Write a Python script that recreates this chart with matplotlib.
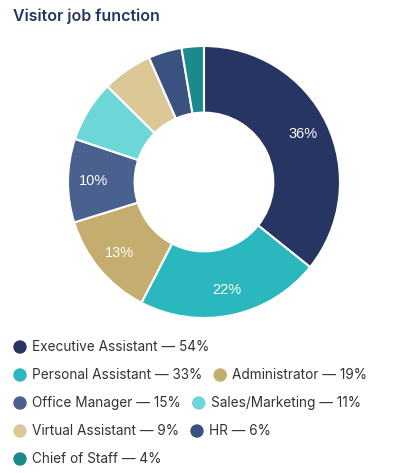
import matplotlib.pyplot as plt
import matplotlib as mpl

mpl.rcParams['font.family'] = ['Inter', 'DejaVu Sans']

labels = ['Executive Assistant', 'Personal Assistant', 'Administrator', 'Office Manager',
          'Sales/Marketing', 'Virtual Assistant', 'HR', 'Chief of Staff']
values = [54, 33, 19, 15, 11, 9, 6, 4]
colors = ['#263562', '#2ab7bd', '#c5ad70', '#4a6190', '#6dd6d8', '#dcc897', '#3a5280', '#1b8a8c']
# legend rows as they wrap in the reference
rows = [[0], [1, 2], [3, 4], [5, 6], [7]]

W, H = 417, 473
fig = plt.figure(figsize=(W / 100, H / 100), dpi=100)

fig.text(13 / W, 1 - 16 / H, 'Visitor job function', fontsize=11.5, fontweight='semibold',
         color='#263562', va='center', ha='left')

cx, cy, r = 204, 182, 136
ax = fig.add_axes([(cx - r) / W, 1 - (cy + r) / H, 2 * r / W, 2 * r / H])


def fmt(p):
    return '%d%%' % round(p) if p >= 9.5 else ''


wedges, texts, autotexts = ax.pie(values, colors=colors, startangle=90, counterclock=False,
                                  autopct=fmt, pctdistance=0.81,
                                  wedgeprops=dict(width=0.49, edgecolor='white', linewidth=1.5),
                                  textprops=dict(color='white', fontsize=10.5,
                                                 family=['Liberation Sans', 'DejaVu Sans']))
ax.set_xlim(-1, 1)
ax.set_ylim(-1, 1)
ax.set_aspect('equal')

# legend, laid out like a wrapping html list
fig.canvas.draw()
renderer = fig.canvas.get_renderer()
y0, dy = 347, 28
for ri, row in enumerate(rows):
    y = y0 + ri * dy
    x = 20
    for i in row:
        fig.patches.append(mpl.patches.Ellipse((x / W, 1 - y / H), 12 / W, 12 / H,
                                               transform=fig.transFigure, color=colors[i]))
        t = fig.text((x + 12) / W, 1 - y / H, '%s — %d%%' % (labels[i], values[i]),
                     fontsize=9.8, color='#333333', va='center', ha='left')
        bb = t.get_window_extent(renderer)
        x = bb.x1 + 18

fig.savefig('out.png', dpi=100)
